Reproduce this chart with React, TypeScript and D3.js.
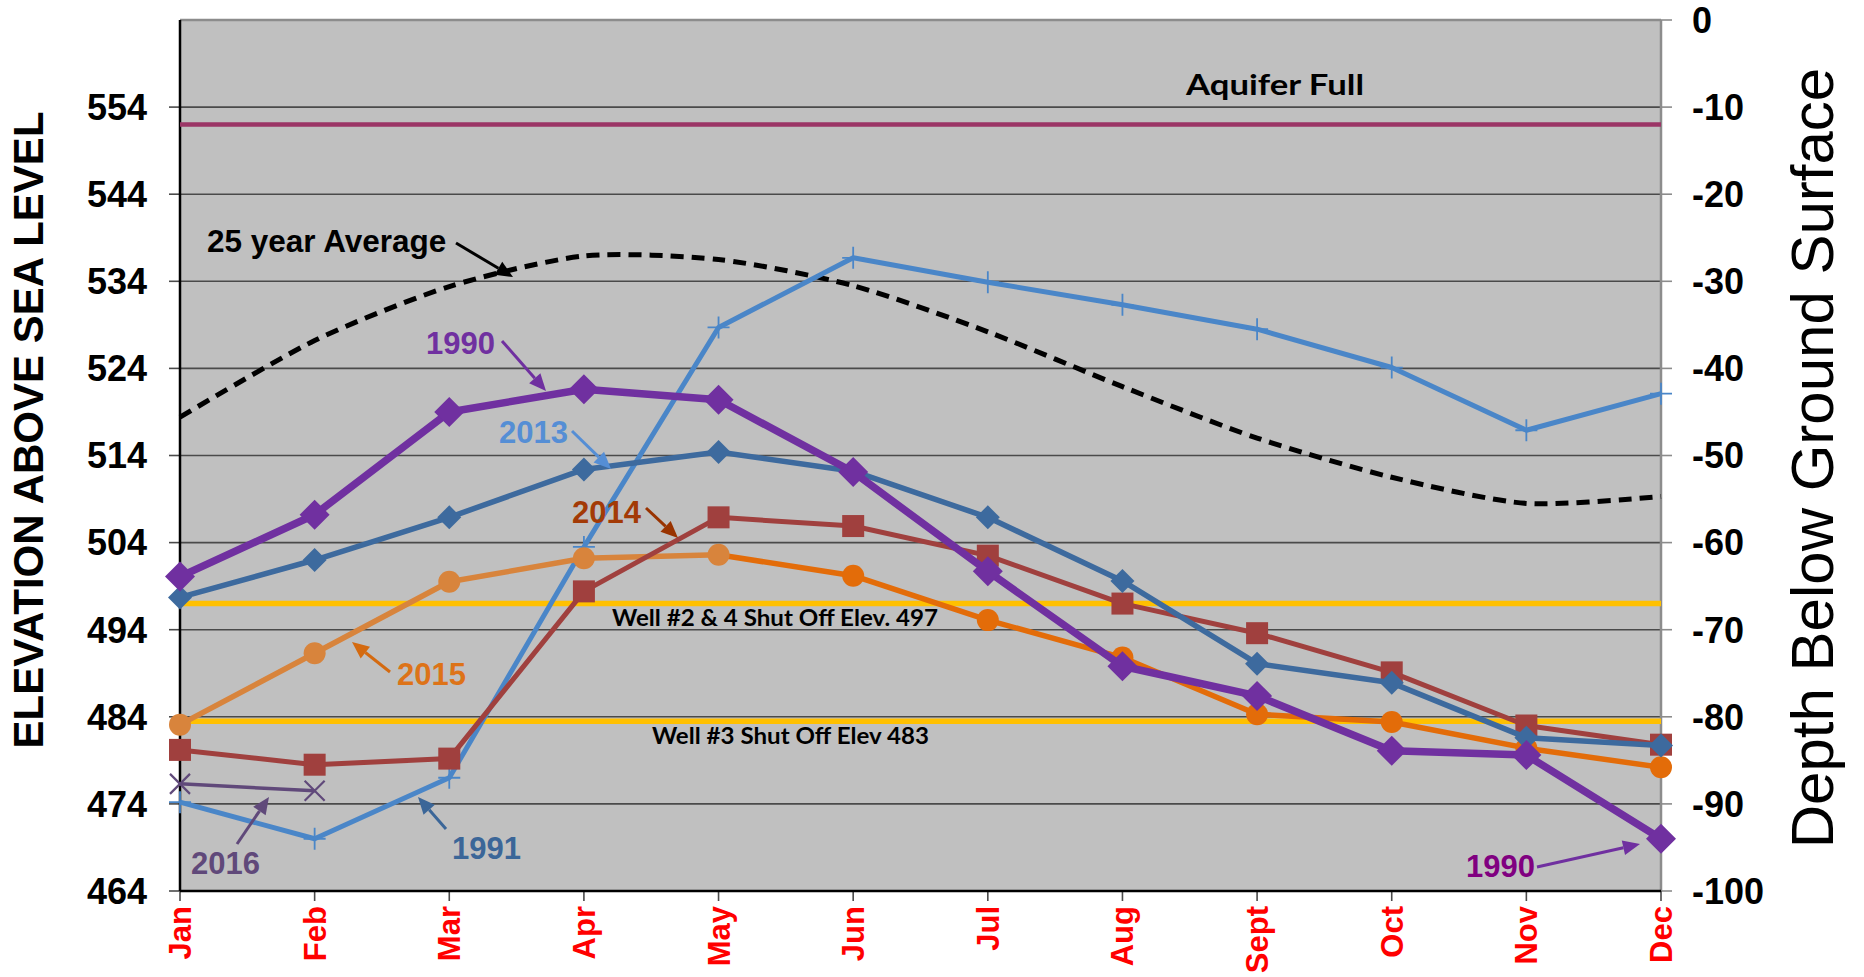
import React from 'react';
import * as d3 from 'd3';

const months = ['Jan', 'Feb', 'Mar', 'Apr', 'May', 'Jun', 'Jul', 'Aug', 'Sept', 'Oct', 'Nov', 'Dec'];
const leftTicks = [464, 474, 484, 494, 504, 514, 524, 534, 544, 554];
const rightTicks = [0, -10, -20, -30, -40, -50, -60, -70, -80, -90, -100];

const avg25 = [518.4, 527.2, 533.4, 536.9, 536.5, 533.5, 528.2, 521.9, 516.0, 511.5, 508.5, 509.3];
const y1990 = [500.1, 507.2, 519.0, 521.6, 520.4, 512.1, 500.7, 489.8, 486.4, 480.1, 479.6, 470.0];
const y1991 = [474.2, 470.0, 477.0, 503.5, 528.7, 536.7, 533.9, 531.3, 528.5, 524.1, 516.9, 521.1];
const y2013 = [497.7, 502.0, 506.9, 512.4, 514.4, 512.2, 506.9, 499.6, 490.1, 487.9, 481.6, 480.7];
const y2014 = [480.2, 478.5, 479.2, 498.4, 506.9, 505.9, 502.5, 497.0, 493.6, 489.1, 483.0, 480.8];
const y2015 = [483.1, 491.3, 499.5, 502.2, 502.6, 500.2, 495.1, 490.8, 484.3, 483.4, 480.4, 478.2];
const y2016 = [476.3, 475.5];
const aquiferFull = 552;
const shutOff24 = 497;
const shutOff3 = 483.5;

const ARIAL = '"Liberation Sans", Arial, sans-serif';
const CALIBRI = 'Lato, "Open Sans", sans-serif';

const L = 180, R = 1661, T = 20, B = 891;
const x = d3.scalePoint<string>().domain(months).range([L, R]);
const yL = d3.scaleLinear().domain([464, 564]).range([B, T]);
const yR = d3.scaleLinear().domain([-100, 0]).range([B, T]);

const mx = (i: number) => x(months[i]) as number;
const makeLine = (def?: (i: number) => boolean) => {
  const g = d3.line<number>().x((_, i) => mx(i)).y((d) => yL(d));
  if (def) g.defined((_, i) => def(i));
  return g;
};
const lineGen = makeLine();
const smoothGen = d3.line<number>().x((_, i) => mx(i)).y((d) => yL(d)).curve(d3.curveCardinal.tension(0.25));

const diamond = (cx: number, cy: number, r: number) => `M${cx},${cy - r}L${cx + r},${cy}L${cx},${cy + r}L${cx - r},${cy}Z`;

type Ann = { text: string; color: string; size: number; tx: number; ty: number; ax1: number; ay1: number; ax2: number; ay2: number; arrow: string };
const annotations: Ann[] = [
  { text: '25 year Average', color: '#000000', size: 31.5, tx: 207, ty: 252, ax1: 456, ay1: 243, ax2: 513, ay2: 277, arrow: '#000000' },
  { text: '1990', color: '#7030A0', size: 31, tx: 426, ty: 354, ax1: 502, ay1: 341, ax2: 546, ay2: 391, arrow: '#7030A0' },
  { text: '2013', color: '#558ED5', size: 31, tx: 499, ty: 443, ax1: 572, ay1: 431, ax2: 611, ay2: 469, arrow: '#558ED5' },
  { text: '2014', color: '#A33A06', size: 31, tx: 572, ty: 523, ax1: 646, ay1: 508, ax2: 678, ay2: 538, arrow: '#993300' },
  { text: '2015', color: '#DD7318', size: 31, tx: 397, ty: 685, ax1: 390, ay1: 672, ax2: 352, ay2: 642, arrow: '#D46A10' },
  { text: '2016', color: '#60497A', size: 31, tx: 191, ty: 874, ax1: 237, ay1: 844, ax2: 269, ay2: 797, arrow: '#60497A' },
  { text: '1991', color: '#3B6698', size: 31, tx: 452, ty: 859, ax1: 446, ay1: 829, ax2: 418, ay2: 797, arrow: '#3B6698' },
  { text: '1990', color: '#800080', size: 31, tx: 1466, ty: 877, ax1: 1537, ay1: 867, ax2: 1640, ay2: 844, arrow: '#7030A0' },
];

function Arrow({ a }: { a: Ann }) {
  const dx = a.ax2 - a.ax1, dy = a.ay2 - a.ay1;
  const len = Math.hypot(dx, dy);
  const ux = dx / len, uy = dy / len;
  const hl = 17, hw = 7.5;
  const bx = a.ax2 - ux * hl, by = a.ay2 - uy * hl;
  const px = -uy, py = ux;
  return (
    <g>
      <line x1={a.ax1} y1={a.ay1} x2={bx} y2={by} stroke={a.arrow} strokeWidth={3} />
      <path d={`M${a.ax2},${a.ay2}L${bx + px * hw},${by + py * hw}L${bx - px * hw},${by - py * hw}Z`} fill={a.arrow} />
    </g>
  );
}

export default function App() {
  const c1990 = '#7030A0';
  const c1991 = '#4A86C8';
  const c2013 = '#3D6A9E';
  const c2014 = '#A0403E';
  const c2015a = '#D8843C';
  const c2015b = '#E36C09';
  const c2016 = '#60497A';
  return (
    <div style={{ position: 'absolute', left: 0, top: 0 }}>
      <svg width={1864} height={977} style={{ display: 'block', background: '#ffffff' }}>
        <rect x={L} y={T} width={R - L} height={B - T} fill="#C0C0C0" />
        {leftTicks.filter((t) => t > 464).map((t) => (
          <line key={t} x1={L} x2={R} y1={yL(t)} y2={yL(t)} stroke="#4A4A4A" strokeWidth={1.6} />
        ))}
        <line x1={L} x2={R} y1={T} y2={T} stroke="#8C8C8C" strokeWidth={2.5} />
        <line x1={R} x2={R} y1={T} y2={B} stroke="#8C8C8C" strokeWidth={2.5} />
        {leftTicks.map((t) => (
          <g key={'lt' + t}>
            <line x1={L - 11} x2={L} y1={yL(t)} y2={yL(t)} stroke="#4A4A4A" strokeWidth={1.6} />
            <text x={147} y={yL(t) + 12.8} textAnchor="end" fontFamily={ARIAL} fontWeight="bold" fontSize={36} fill="#000">{t}</text>
          </g>
        ))}
        {rightTicks.map((t) => (
          <g key={'rt' + t}>
            <line x1={R} x2={R + 11} y1={yR(t)} y2={yR(t)} stroke="#8C8C8C" strokeWidth={1.6} />
            <text x={1692} y={yR(t) + 12.8} textAnchor="start" fontFamily={ARIAL} fontWeight="bold" fontSize={36} fill="#000">{t === 0 ? '0' : '-' + Math.abs(t)}</text>
          </g>
        ))}
        {months.map((m) => (
          <g key={m}>
            <line x1={x(m)} x2={x(m)} y1={B} y2={B + 10} stroke="#4A4A4A" strokeWidth={1.6} />
            <text transform={`translate(${(x(m) as number) + 11},${906}) rotate(-90)`} textAnchor="end" fontFamily={ARIAL} fontWeight="bold" fontSize={31} fill="#FF0000">{m}</text>
          </g>
        ))}
        <line x1={L} x2={L} y1={T} y2={B} stroke="#000" strokeWidth={2.5} />
        <line x1={L} x2={R} y1={B} y2={B} stroke="#000" strokeWidth={2.5} />

        <line x1={L} x2={R} y1={yL(aquiferFull)} y2={yL(aquiferFull)} stroke="#9B3566" strokeWidth={4.5} />
        <line x1={L} x2={R} y1={yL(shutOff24)} y2={yL(shutOff24)} stroke="#FFC000" strokeWidth={5.5} />
        <line x1={L} x2={R} y1={yL(shutOff3)} y2={yL(shutOff3)} stroke="#FFC000" strokeWidth={5.5} />
        <text x={1186} y={95} fontFamily={CALIBRI} fontWeight="bold" fontSize={29} textLength={178} lengthAdjust="spacingAndGlyphs" fill="#000">Aquifer Full</text>
        <text x={612} y={626} fontFamily={CALIBRI} fontWeight="bold" fontSize={23} textLength={326} lengthAdjust="spacingAndGlyphs" fill="#000">Well #2 &amp; 4 Shut Off Elev. 497</text>
        <text x={652} y={744} fontFamily={CALIBRI} fontWeight="bold" fontSize={23} textLength={277} lengthAdjust="spacingAndGlyphs" fill="#000">Well #3 Shut Off Elev 483</text>

        <path d={smoothGen(avg25) || ''} fill="none" stroke="#000" strokeWidth={5} strokeDasharray="13,8" />

        <path d={lineGen(y1991) || ''} fill="none" stroke={c1991} strokeWidth={5} strokeLinejoin="round" />
        {y1991.map((v, i) => {
          const cx = mx(i), cy = yL(v);
          return <path key={'p' + i} d={`M${cx - 11},${cy}H${cx + 11}M${cx},${cy - 11}V${cy + 11}`} stroke={c1991} strokeWidth={1.8} />;
        })}

        <path d={makeLine()(y2016) || ''} fill="none" stroke={c2016} strokeWidth={3.5} />
        {y2016.map((v, i) => {
          const cx = mx(i), cy = yL(v);
          return <path key={'x' + i} d={`M${cx - 10},${cy - 10}L${cx + 10},${cy + 10}M${cx - 10},${cy + 10}L${cx + 10},${cy - 10}`} stroke={c2016} strokeWidth={2.2} />;
        })}

        <path d={makeLine((i) => i <= 4)(y2015) || ''} fill="none" stroke={c2015a} strokeWidth={5.5} strokeLinejoin="round" />
        <path d={makeLine((i) => i >= 4)(y2015) || ''} fill="none" stroke={c2015b} strokeWidth={5.5} strokeLinejoin="round" />
        {y2015.map((v, i) => (
          <circle key={'c' + i} cx={mx(i)} cy={yL(v)} r={11} fill={i <= 4 ? c2015a : c2015b} />
        ))}

        <path d={makeLine()(y2014) || ''} fill="none" stroke={c2014} strokeWidth={5} strokeLinejoin="round" />
        {y2014.map((v, i) => (
          <rect key={'s' + i} x={mx(i) - 11} y={yL(v) - 11} width={22} height={22} fill={c2014} />
        ))}

        <path d={makeLine()(y2013) || ''} fill="none" stroke={c2013} strokeWidth={5.5} strokeLinejoin="round" />
        {y2013.map((v, i) => (
          <path key={'d' + i} d={diamond(mx(i), yL(v), 12)} fill={c2013} />
        ))}

        <path d={makeLine()(y1990) || ''} fill="none" stroke={c1990} strokeWidth={7.5} strokeLinejoin="round" />
        {y1990.map((v, i) => (
          <path key={'D' + i} d={diamond(mx(i), yL(v), 15)} fill={c1990} />
        ))}

        {annotations.map((a, i) => (
          <g key={'a' + i}>
            <Arrow a={a} />
            <text x={a.tx} y={a.ty} fontFamily={ARIAL} fontWeight="bold" fontSize={a.size} fill={a.color}>{a.text}</text>
          </g>
        ))}

        <text transform="translate(43,430) rotate(-90)" textAnchor="middle" fontFamily={ARIAL} fontWeight="bold" fontSize={42} fill="#000">ELEVATION ABOVE SEA LEVEL</text>
        <text transform="translate(1833,458) rotate(-90)" textAnchor="middle" fontFamily={ARIAL} fontSize={60} fill="#000">Depth Below Ground Surface</text>
      </svg>
    </div>
  );
}
